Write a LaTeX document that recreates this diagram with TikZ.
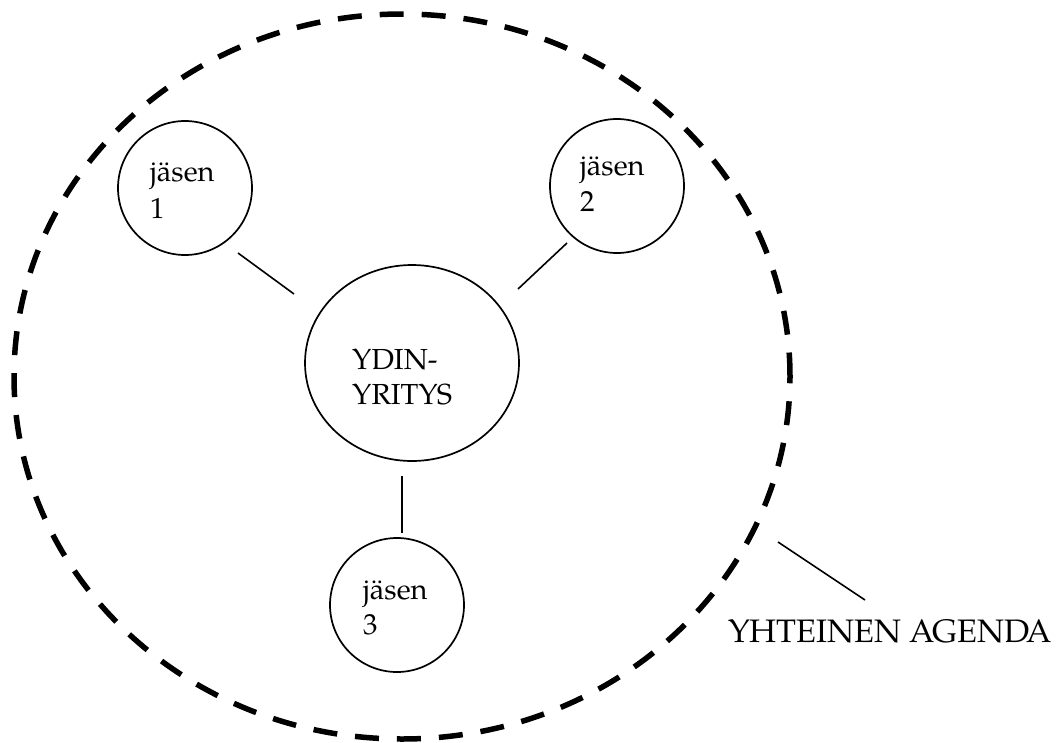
\documentclass[tikz,border=0pt]{standalone}
\usepackage{fontspec}
\setmainfont{TeX Gyre Pagella}
\usetikzlibrary{shapes.geometric}

\tikzset{
  member/.style={circle, draw, line width=1.7pt, minimum size=134pt, inner sep=0pt},
  corebox/.style={ellipse, draw, line width=1.7pt, minimum width=214pt, minimum height=196pt, inner sep=0pt},
  agendaring/.style={ellipse, draw, line width=5.5pt, dash pattern=on 24pt off 18pt, minimum width=776pt, minimum height=725pt, inner sep=0pt},
  link/.style={line width=1.6pt},
  lbl/.style={anchor=base west, inner sep=0pt, font=\fontsize{29}{35}\selectfont},
  biglbl/.style={anchor=base west, inner sep=0pt, font=\fontsize{32.5}{38}\selectfont}
}

\begin{document}
\begin{tikzpicture}[x=1pt, y=-1pt]
  \useasboundingbox (0,0) rectangle (1060,742);

  % outer shared-agenda boundary
  \node[agendaring] (ring) at (402,376.5) {};

  % core company and members
  \node[corebox] (core) at (412,363) {};
  \node[member] (m1) at (185,188) {};
  \node[member] (m2) at (617,186) {};
  \node[member] (m3) at (397,605) {};

  % texts
  \node[lbl] (m1a) at (150,181) {jäsen};
  \node[lbl] (m1b) at (150,218) {1};
  \node[lbl] (m2a) at (580,175) {jäsen};
  \node[lbl] (m2b) at (580,211) {2};
  \node[lbl] (m3a) at (363,599) {jäsen};
  \node[lbl] (m3b) at (363,634) {3};
  \node[lbl] (corea) at (352,369) {YDIN-};
  \node[lbl] (coreb) at (352,404) {YRITYS};
  \node[biglbl] (agtxt) at (728,642) {YHTEINEN AGENDA};

  % connector end points
  \coordinate (l1a) at (238,253);
  \coordinate (l1b) at (294,294);
  \coordinate (l2a) at (567,243);
  \coordinate (l2b) at (518,289);
  \coordinate (l3a) at (402,476);
  \coordinate (l3b) at (402,533);
  \coordinate (l4a) at (778,542);
  \coordinate (l4b) at (865,600);

  \draw[link] (l1a) -- (l1b);
  \draw[link] (l2a) -- (l2b);
  \draw[link] (l3a) -- (l3b);
  \draw[link] (l4a) -- (l4b);
\end{tikzpicture}
\end{document}
